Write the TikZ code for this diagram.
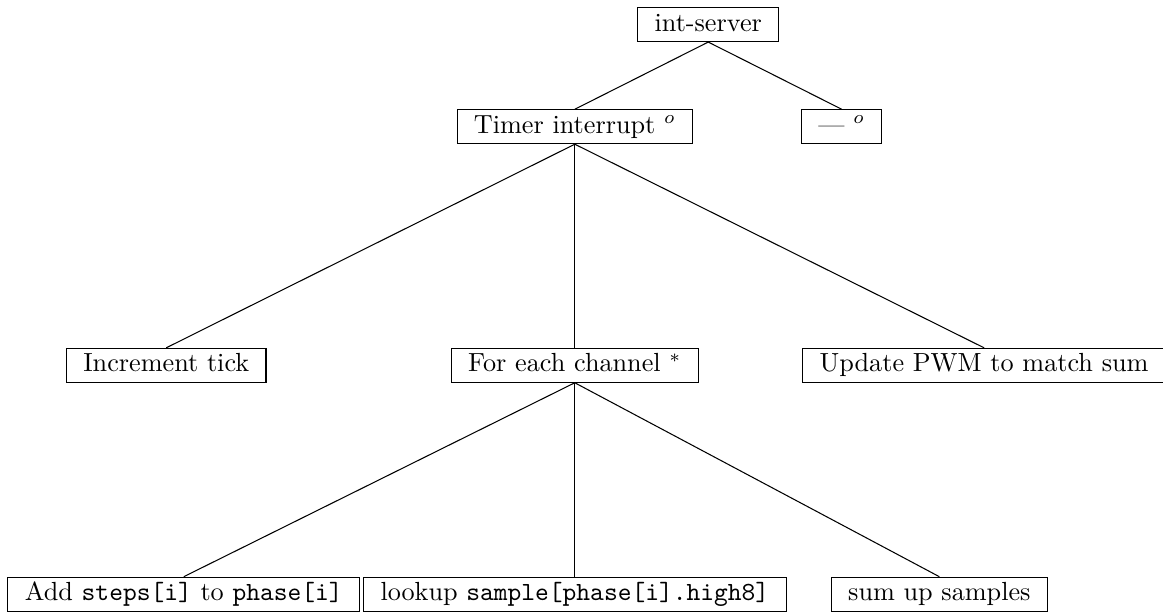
\documentclass[tikz,border=0pt]{standalone}
\usepackage{tikz}
\usetikzlibrary{positioning}

\begin{document}
\begin{tikzpicture}[
  box/.style={draw, inner xsep=6.4pt, inner ysep=2pt, text height=6.94pt, text depth=2pt},
  link/.style={thin}
]
  \useasboundingbox (0,0) rectangle (15.60,-8.21);

  % Root
  \node[box] (server) at (9.50, -0.33) {int-server};

  % Level 1
  \node[box] (timer) at (7.71, -1.70) {Timer interrupt $^o$};
  \node[box] (none) at (11.29, -1.70) {--- $^o$};

  % Level 2
  \node[box] (tick) at (2.23, -4.90) {Increment tick};
  \node[box] (channel) at (7.71, -4.90) {For each channel $^*$};
  \node[box] (pwm) at (13.20, -4.90) {Update PWM to match sum};

  % Level 3
  \node[box, inner xsep=6.6pt] (steps) at (2.465, -7.97) {Add \texttt{steps[i]} to \texttt{phase[i]}};
  \node[box, inner xsep=6.6pt] (lookup) at (7.71, -7.97) {lookup \texttt{sample[phase[i].high8]}};
  \node[box] (sum) at (12.60, -7.97) {sum up samples};

  % Edges
  \draw[link] (server.south) -- (timer.north);
  \draw[link] (server.south) -- (none.north);
  \draw[link] (timer.south) -- (tick.north);
  \draw[link] (timer.south) -- (channel.north);
  \draw[link] (timer.south) -- (pwm.north);
  \draw[link] (channel.south) -- (steps.north);
  \draw[link] (channel.south) -- (lookup.north);
  \draw[link] (channel.south) -- (sum.north);
\end{tikzpicture}
\end{document}
